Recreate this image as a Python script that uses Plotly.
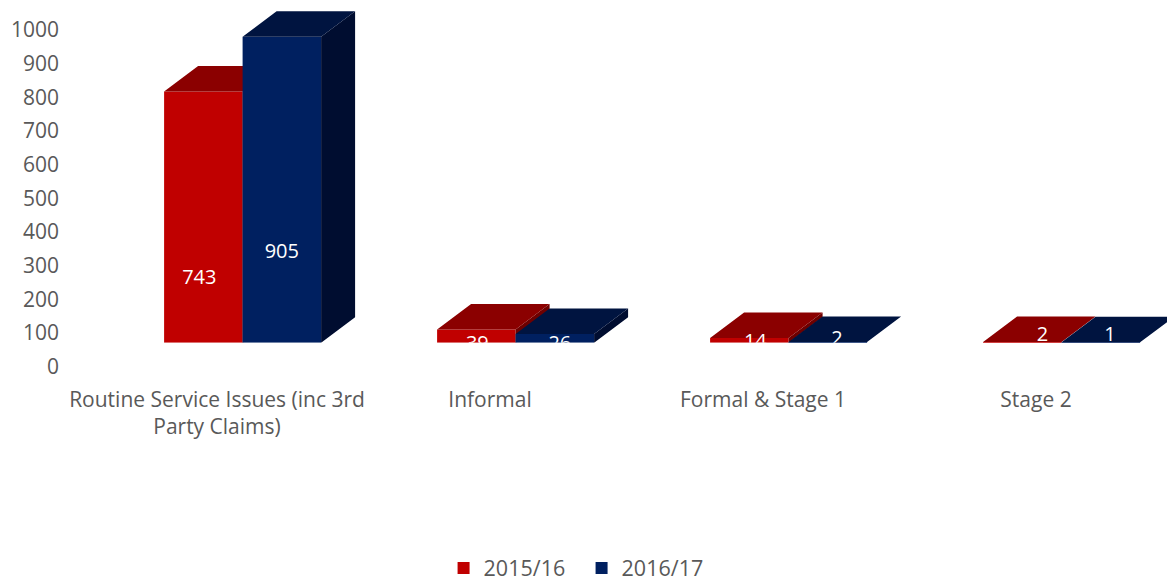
import plotly.graph_objects as go

# Complaint counts by stage and year
categories = ["Routine Service Issues (inc 3rd<br>Party Claims)", "Informal", "Formal &amp; Stage 1", "Stage 2"]
positions = [0, 1, 2, 3]
values_2015 = [743, 39, 14, 2]
values_2016 = [905, 26, 2, 1]
y_ticks = [0, 100, 200, 300, 400, 500, 600, 700, 800, 900, 1000]

W, H = 1167, 581
LEFT = 60
GROUP_STEP = 273            # px between groups
PX_PER_UNIT = 0.338         # vertical px per count
BAR_W = 78.5 / GROUP_STEP   # bar width in group units
DEPTH_X = 34 / GROUP_STEP   # oblique depth, horizontal
DEPTH_Y = 25.5 / PX_PER_UNIT  # oblique depth, vertical
BASE_PX, TOP_PX = 342.7, 4
AXIS_ZERO_PX, AXIS_MAX_PX = 366.5, 30

GREY = "#595959"
FONT = "Open Sans"


def prism_faces(xs, vals, offset):
    """Top and side outlines of the oblique bars, in data units."""
    top_x, top_y, side_x, side_y = [], [], [], []
    for x, v in zip(xs, vals):
        l = x + offset
        r = l + BAR_W
        top_x += [l, r, r + DEPTH_X, l + DEPTH_X, l, None]
        top_y += [v, v, v + DEPTH_Y, v + DEPTH_Y, v, None]
        side_x += [r, r + DEPTH_X, r + DEPTH_X, r, r, None]
        side_y += [0, DEPTH_Y, v + DEPTH_Y, v, 0, None]
    return top_x, top_y, side_x, side_y


fig = go.Figure()

# Holds the visible scale in place; draws nothing itself
fig.add_trace(go.Scatter(
    x=positions, y=[0, 0, 0, 0], mode="markers", marker=dict(opacity=0, size=1),
    showlegend=False, hoverinfo="skip", xaxis="x", yaxis="y",
))

series = [
    ("2015/16", values_2015, -BAR_W, "#C00000", "#8B0000", "#6E0000", "x2", "y2"),
    ("2016/17", values_2016, 0, "#002060", "#001440", "#000D30", "x3", "y3"),
]
for name, vals, offset, front, top, side, xa, ya in series:
    fig.add_trace(go.Bar(
        x=positions, y=vals, name=name, width=BAR_W, offset=offset,
        marker=dict(color=front, line=dict(width=0)),
        xaxis=xa, yaxis=ya, hoverinfo="skip",
    ))
    tx, ty, sx, sy = prism_faces(positions, vals, offset)
    for fx, fy, colour in ((sx, sy, side), (tx, ty, top)):
        fig.add_trace(go.Scatter(
            x=fx, y=fy, mode="lines", fill="toself", fillcolor=colour,
            line=dict(width=0, color=colour), showlegend=False,
            xaxis=xa, yaxis=ya, hoverinfo="skip",
        ))

# Value labels sit low on the bars and get cut off at the floor for the small counts
label_lift_px = [[64, -2, 0, 7], [90, -2, 3, 7]]
label_shift_px = [[-4, 1, 6, 20], [0, 5, 9, 9]]
for k, (vals, offset) in enumerate(((values_2015, -BAR_W), (values_2016, 0))):
    fig.add_trace(go.Scatter(
        x=[p + offset + BAR_W / 2 + label_shift_px[k][i] / GROUP_STEP for i, p in enumerate(positions)],
        y=[lift / PX_PER_UNIT for lift in label_lift_px[k]],
        text=[str(v) for v in vals],
        mode="text", textposition="middle center",
        textfont=dict(family=FONT, size=20, color="white"),
        showlegend=False, cliponaxis=True, xaxis="x3", yaxis="y3", hoverinfo="skip",
    ))


def ydom(bottom_px, top_px):
    return [(H - bottom_px) / H, (H - top_px) / H]


xr_labels = [(LEFT - 217) / GROUP_STEP, (W - 217) / GROUP_STEP]
xr_bars = [(LEFT - 242.6) / GROUP_STEP, (W - 242.6) / GROUP_STEP]
yr_bars = [0, (BASE_PX - TOP_PX) / PX_PER_UNIT]
hidden = dict(visible=False, fixedrange=True)

fig.update_layout(
    width=W, height=H,
    margin=dict(l=LEFT, r=0, t=0, b=0, autoexpand=False),
    paper_bgcolor="white", plot_bgcolor="rgba(0,0,0,0)",
    barmode="overlay",
    showlegend=True,
    legend=dict(
        orientation="h",
        x=0.3465, xanchor="left", y=13 / H, yanchor="middle",
        font=dict(family=FONT, size=21.5, color=GREY),
        bgcolor="rgba(0,0,0,0)", traceorder="normal",
        entrywidth=93, entrywidthmode="pixels",
    ),
    # Visible scale: labels only, no lines or grid
    xaxis=dict(
        domain=[0, 1], range=xr_labels, tickmode="array", tickvals=positions,
        ticktext=categories, tickangle=0, showgrid=False, zeroline=False, showline=False,
        ticks="", tickfont=dict(family=FONT, size=21, color=GREY),
        ticklabelstandoff=18, anchor="y", automargin=False,
    ),
    yaxis=dict(
        domain=ydom(AXIS_ZERO_PX, AXIS_MAX_PX), range=[0, 1000], tickmode="array",
        tickvals=y_ticks, showgrid=False, zeroline=False, showline=False, ticks="",
        tickfont=dict(family=FONT, size=21, color=GREY), anchor="x", automargin=False,
    ),
    # Bars are raised above the visible scale, each series on its own layer
    xaxis2=dict(domain=[0, 1], range=xr_bars, anchor="y2", **hidden),
    yaxis2=dict(domain=ydom(BASE_PX, TOP_PX), range=yr_bars, anchor="x2", **hidden),
    xaxis3=dict(domain=[0, 1], range=xr_bars, anchor="y3", overlaying="x2", **hidden),
    yaxis3=dict(domain=ydom(BASE_PX, TOP_PX), range=yr_bars, anchor="x3", overlaying="y2", **hidden),
)

fig.write_html("out.html", config=dict(displayModeBar=False))
